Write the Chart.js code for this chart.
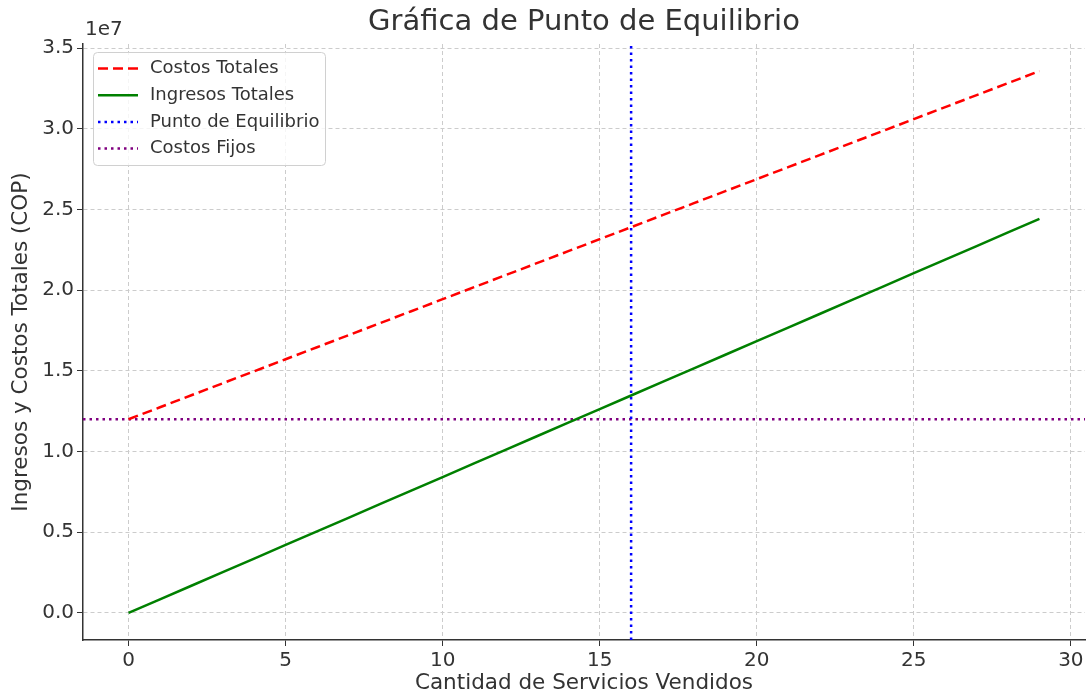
<!DOCTYPE html>
<html>
<head>
<meta charset="utf-8">
<script src="https://cdn.jsdelivr.net/npm/chart.js@4"></script>
<style>
  html, body { margin: 0; padding: 0; background: #fff; }
  canvas { display: block; }
</style>
</head>
<body>
<canvas id="chart" width="1087" height="696"></canvas>
<script>
// Servicios vendidos (eje x)
const cantidades = [0, 1, 2, 3, 4, 5, 6, 7, 8, 9, 10, 11, 12, 13, 14, 15, 16, 17, 18, 19, 20, 21, 22, 23, 24, 25, 26, 27, 28, 29];

// Costos totales en COP
const costosTotales = [
    12000000, 12744000, 13488000, 14232000, 14976000, 15720000, 16464000, 17208000, 17952000, 18696000,
    19440000, 20184000, 20928000, 21672000, 22416000, 23160000, 23904000, 24648000, 25392000, 26136000,
    26880000, 27624000, 28368000, 29112000, 29856000, 30600000, 31344000, 32088000, 32832000, 33576000
];

// Ingresos totales en COP
const ingresosTotales = [
    0, 842000, 1684000, 2526000, 3368000, 4210000, 5052000, 5894000, 6736000, 7578000,
    8420000, 9262000, 10104000, 10946000, 11788000, 12630000, 13472000, 14314000, 15156000, 15998000,
    16840000, 17682000, 18524000, 19366000, 20208000, 21050000, 21892000, 22734000, 23576000, 24418000
];

const puntoEquilibrio = 16;
const costosFijos = 12000000;

// Ejes
const xMin = -1.45, xMax = 30.45;
const yMin = -1679000, yMax = 35255000;
const xTicks = [0, 5, 10, 15, 20, 25, 30];
const yTicks = [0, 5000000, 10000000, 15000000, 20000000, 25000000, 30000000, 35000000];

const textColor = '#333333';
const fontFamily = '"DejaVu Sans", sans-serif';

// Titulo y texto de desplazamiento "1e7"
const titlePlugin = {
    id: 'titlePlugin',
    afterDraw(chart) {
        const ctx = chart.ctx;
        const area = chart.chartArea;
        ctx.save();
        ctx.fillStyle = textColor;
        ctx.font = '29px ' + fontFamily;
        ctx.textAlign = 'center';
        ctx.textBaseline = 'middle';
        ctx.fillText('Gráfica de Punto de Equilibrio', (area.left + area.right) / 2, 22);
        ctx.font = '20px ' + fontFamily;
        ctx.textAlign = 'left';
        ctx.fillText('1e7', area.left + 2, 30);
        ctx.restore();
    }
};

// Leyenda dentro del area del grafico (arriba a la izquierda)
const legendPlugin = {
    id: 'insideLegend',
    afterDraw(chart) {
        const ctx = chart.ctx;
        const area = chart.chartArea;
        const x = area.left + 10, y = area.top + 8;
        const w = 232, h = 113;
        ctx.save();
        ctx.fillStyle = 'rgba(255,255,255,0.8)';
        ctx.strokeStyle = '#d0d0d0';
        ctx.lineWidth = 1;
        ctx.beginPath();
        ctx.roundRect(x + 0.5, y + 0.5, w, h, 4);
        ctx.fill();
        ctx.stroke();
        ctx.font = '18px ' + fontFamily;
        ctx.textBaseline = 'middle';
        chart.data.datasets.forEach((ds, i) => {
            const ly = y + 16.5 + i * 26.7;
            ctx.strokeStyle = ds.borderColor;
            ctx.lineWidth = ds.borderWidth;
            ctx.setLineDash(ds.borderDash || []);
            ctx.beginPath();
            ctx.moveTo(x + 5, ly);
            ctx.lineTo(x + 45, ly);
            ctx.stroke();
            ctx.setLineDash([]);
            ctx.fillStyle = textColor;
            ctx.fillText(ds.label, x + 57, ly);
        });
        ctx.restore();
    }
};

const lineStyle = { pointRadius: 0, borderWidth: 2.5, fill: false, tension: 0, borderCapStyle: 'butt' };

new Chart(document.getElementById('chart'), {
    type: 'line',
    data: {
        datasets: [
            Object.assign({
                label: 'Costos Totales',
                data: cantidades.map((c, i) => ({ x: c, y: costosTotales[i] })),
                borderColor: '#ff0000',
                borderDash: [10, 5]
            }, lineStyle),
            Object.assign({
                label: 'Ingresos Totales',
                data: cantidades.map((c, i) => ({ x: c, y: ingresosTotales[i] })),
                borderColor: '#008000'
            }, lineStyle),
            Object.assign({
                label: 'Punto de Equilibrio',
                data: [{ x: puntoEquilibrio, y: yMin }, { x: puntoEquilibrio, y: yMax }],
                borderColor: '#0000ff',
                borderDash: [2.5, 4]
            }, lineStyle),
            Object.assign({
                label: 'Costos Fijos',
                data: [{ x: xMin, y: costosFijos }, { x: xMax, y: costosFijos }],
                borderColor: '#800080',
                borderDash: [2.5, 4]
            }, lineStyle)
        ]
    },
    options: {
        responsive: false,
        animation: false,
        layout: { padding: { top: 44, right: 2, left: 0, bottom: 0 } },
        plugins: {
            legend: { display: false },
            title: { display: false },
            tooltip: { enabled: false }
        },
        scales: {
            x: {
                type: 'linear',
                min: xMin,
                max: xMax,
                afterBuildTicks: (scale) => { scale.ticks = xTicks.map(v => ({ value: v })); },
                afterFit: (scale) => { scale.height = 56; },
                ticks: {
                    color: textColor,
                    font: { size: 20, family: fontFamily },
                    padding: 3,
                    maxRotation: 0,
                    callback: (v) => String(v)
                },
                grid: { color: '#cccccc', tickColor: '#333333', tickLength: 6, tickBorderDash: [] },
                border: { color: '#333333', width: 1.5, dash: [4, 3] },
                title: {
                    display: true,
                    text: 'Cantidad de Servicios Vendidos',
                    color: textColor,
                    font: { size: 21.5, family: fontFamily },
                    padding: 0
                }
            },
            y: {
                type: 'linear',
                min: yMin,
                max: yMax,
                afterBuildTicks: (scale) => { scale.ticks = yTicks.map(v => ({ value: v })); },
                afterFit: (scale) => { scale.width = 83; },
                ticks: {
                    color: textColor,
                    font: { size: 20, family: fontFamily },
                    padding: 3,
                    callback: (v) => (v / 1e7).toFixed(1)
                },
                grid: { color: '#cccccc', tickColor: '#333333', tickLength: 6, tickBorderDash: [] },
                border: { color: '#333333', width: 1.5, dash: [4, 3] },
                title: {
                    display: true,
                    text: 'Ingresos y Costos Totales (COP)',
                    color: textColor,
                    font: { size: 21.5, family: fontFamily },
                    padding: { top: 9, bottom: 0 }
                }
            }
        }
    },
    plugins: [titlePlugin, legendPlugin]
});
</script>
</body>
</html>
